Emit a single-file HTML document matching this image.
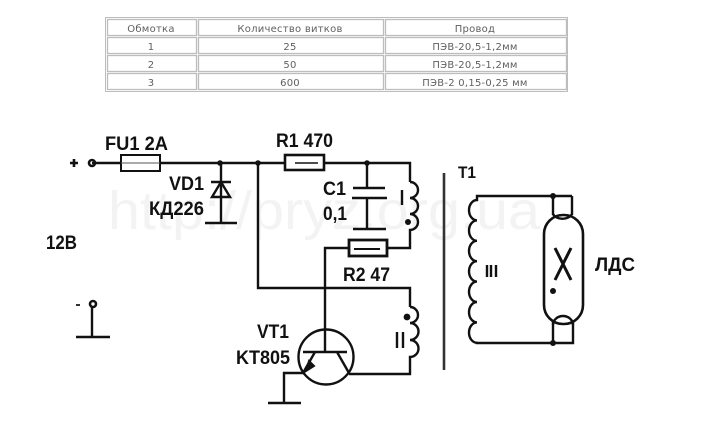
<!DOCTYPE html>
<html><head><meta charset="utf-8">
<style>
html,body{margin:0;padding:0;background:#fff;width:712px;height:431px;overflow:hidden}
svg{display:block}
.t{font-family:"DejaVu Sans",sans-serif;font-size:10px;fill:#5f5f5f;text-anchor:middle;letter-spacing:.25px}
.l{font-family:"Liberation Sans",sans-serif;font-weight:bold;fill:#111}
.w{fill:none;stroke:#111;stroke-width:2.4}
</style></head><body>
<svg width="712" height="431" viewBox="0 0 712 431" xmlns="http://www.w3.org/2000/svg">
<!-- table -->
<g fill="none" stroke="#bdbdbd">
<rect x="105.5" y="17.5" width="462" height="74"/>
<g stroke-width="1.3">
<rect x="107.5" y="19.5" width="89" height="16"/>
<rect x="198.5" y="19.5" width="185" height="16"/>
<rect x="385.5" y="19.5" width="181" height="16"/>
<rect x="107.5" y="37.5" width="89" height="16"/>
<rect x="198.5" y="37.5" width="185" height="16"/>
<rect x="385.5" y="37.5" width="181" height="16"/>
<rect x="107.5" y="55.5" width="89" height="16"/>
<rect x="198.5" y="55.5" width="185" height="16"/>
<rect x="385.5" y="55.5" width="181" height="16"/>
<rect x="107.5" y="73.5" width="89" height="16"/>
<rect x="198.5" y="73.5" width="185" height="16"/>
<rect x="385.5" y="73.5" width="181" height="16"/>
</g>
</g>
<text class="t" x="151" y="32">Обмотка</text>
<text class="t" x="290" y="32">Количество витков</text>
<text class="t" x="475" y="32">Провод</text>
<text class="t" x="151" y="50">1</text>
<text class="t" x="290" y="50">25</text>
<text class="t" x="475" y="50">ПЭВ-20,5-1,2мм</text>
<text class="t" x="151" y="68">2</text>
<text class="t" x="290" y="68">50</text>
<text class="t" x="475" y="68">ПЭВ-20,5-1,2мм</text>
<text class="t" x="151" y="86">3</text>
<text class="t" x="290" y="86">600</text>
<text class="t" x="475" y="86">ПЭВ-2 0,15-0,25 мм</text>

<!-- watermark -->
<text x="108" y="229" font-family="Liberation Sans,sans-serif" font-size="54" fill="#f3f3f3" textLength="432" lengthAdjust="spacingAndGlyphs">http://pryz.org.ua</text>

<!-- wires -->
<path class="w" d="M92 163H121" stroke-width="1.6"/>
<path class="w" d="M160 163H284M324 163H410V182"/>
<path class="w" d="M410 182a8 8 0 0 1 0 16a8 8 0 0 1 0 16a8 8 0 0 1 0 16V248H387"/>
<path class="w" d="M348 248H325V352"/>
<path class="w" d="M258 163V288H410V307"/>
<path class="w" d="M410 307a8 8 0 0 1 0 16a8 8 0 0 1 0 17a8 8 0 0 1 0 17V374H349"/>

<!-- terminal + -->
<circle cx="92" cy="163" r="3" fill="none" stroke="#111" stroke-width="2.6"/>
<path d="M70 163H78M74 159V167" fill="none" stroke="#111" stroke-width="2.6"/>
<!-- fuse & resistors -->
<rect x="121" y="155" width="39" height="16" fill="#fff" stroke="#111" stroke-width="2"/>
<path d="M121 163H160" stroke="#555" stroke-width="1"/>
<rect x="285" y="155" width="39" height="15" fill="#fff" stroke="#111" stroke-width="2.6"/>
<path d="M295 163H318" stroke="#111" stroke-width="1.6"/>
<rect x="349" y="240" width="38" height="16" fill="#fff" stroke="#111" stroke-width="2.8"/>
<path d="M354 249H380" stroke="#111" stroke-width="2"/>
<!-- junctions -->
<g fill="#111">
<circle cx="220" cy="163" r="2.8"/><circle cx="258" cy="163" r="2.8"/><circle cx="367" cy="163" r="2.8"/>
<circle cx="408" cy="222" r="3"/><circle cx="407" cy="317" r="3.4"/>
<circle cx="553" cy="196" r="3"/><circle cx="553" cy="343" r="3"/><circle cx="553" cy="291" r="3"/>
</g>
<!-- diode -->
<path class="w" d="M221 163V223"/>
<path class="w" d="M205 223H237" stroke-width="3"/>
<path class="w" d="M211 182H231M221 182L212 197H230Z"/>
<!-- cap -->
<path class="w" d="M367 163V187M353 188H385M352 198H387M367 198V229"/>
<path class="w" d="M353 229H386" stroke-width="3.6"/>
<!-- core -->
<path d="M444 173V370" stroke="#333" stroke-width="2.6"/>
<!-- coil III -->
<path class="w" d="M572 196H477V200a8 10.2 0 0 0 0 20.4a8 10.2 0 0 0 0 20.4a8 10.2 0 0 0 0 20.4a8 10.2 0 0 0 0 20.4a8 10.2 0 0 0 0 20.4a8 10.2 0 0 0 0 20.4a8 10.2 0 0 0 0 20.4V343H573V320M553 343V320M553 196V215M572 196V215"/>
<!-- lamp -->
<rect x="544" y="215" width="39" height="109" rx="19" ry="19" fill="none" stroke="#111" stroke-width="2.6"/>
<path class="w" d="M553 214a10 7 0 0 0 19 0M553 325a10 9 0 0 1 20 0"/>
<path d="M555 248L571 280M571 248L555 280" stroke="#111" stroke-width="3" fill="none"/>
<!-- transistor -->
<circle cx="326" cy="357" r="27.5" fill="none" stroke="#111" stroke-width="2.4"/>
<path class="w" d="M303 352H347"/>
<path class="w" d="M315 352L303 373H284V403"/>
<path class="w" d="M337 352L349 373"/>
<path d="M309 361L306 371L314 366Z" fill="#111" stroke="#111" stroke-width="2"/>
<path class="w" d="M268 403H301" stroke-width="3.2"/>
<!-- minus terminal -->
<circle cx="93" cy="304" r="3" fill="none" stroke="#111" stroke-width="2.6"/>
<path class="w" d="M92 307V337"/>
<path class="w" d="M76 337H110" stroke-width="3.4"/>
<path d="M76 305H80" stroke="#333" stroke-width="2"/>
<!-- labels -->
<text class="l" x="105" y="150" font-size="19.5" textLength="63" lengthAdjust="spacingAndGlyphs">FU1 2A</text>
<text class="l" x="169" y="190" font-size="19.5" textLength="35" lengthAdjust="spacingAndGlyphs">VD1</text>
<text class="l" x="149" y="215" font-size="19.5" textLength="55" lengthAdjust="spacingAndGlyphs">КД226</text>
<text class="l" x="46" y="249" font-size="19" textLength="31" lengthAdjust="spacingAndGlyphs">12В</text>
<text class="l" x="276" y="147" font-size="19.5" textLength="57" lengthAdjust="spacingAndGlyphs">R1 470</text>
<text class="l" x="323" y="195" font-size="19.5" textLength="23" lengthAdjust="spacingAndGlyphs">C1</text>
<text class="l" x="323" y="220" font-size="19.5" textLength="24" lengthAdjust="spacingAndGlyphs">0,1</text>
<text class="l" x="343" y="281" font-size="19.5" textLength="47" lengthAdjust="spacingAndGlyphs">R2 47</text>
<text class="l" x="257" y="338" font-size="19.5" textLength="32" lengthAdjust="spacingAndGlyphs">VT1</text>
<text class="l" x="236" y="364" font-size="19.5" textLength="54" lengthAdjust="spacingAndGlyphs">KT805</text>
<text class="l" x="458" y="178" font-size="17" textLength="18" lengthAdjust="spacingAndGlyphs">T1</text>
<text class="l" x="595" y="271" font-size="19" textLength="40" lengthAdjust="spacingAndGlyphs">ЛДС</text>
<path d="M402 190V205M397 332V348M403 332V348M487 265V277M491 265V277M496 265V277" stroke="#111" stroke-width="2.4" fill="none"/>
</svg>
</body></html>
